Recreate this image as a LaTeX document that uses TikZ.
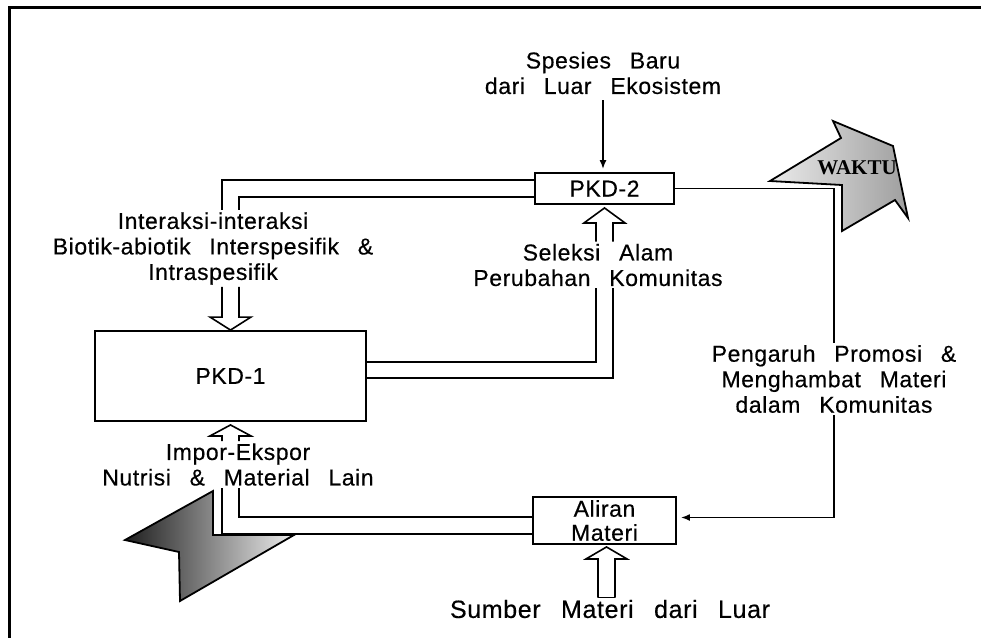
\documentclass[tikz,border=0pt]{standalone}
\usepackage{fontspec}
\setmainfont{Liberation Sans}[WordSpace=2.7,LetterSpace=2.5,FakeBold=0.4]
\newfontfamily\waktufont{Liberation Serif}
\usetikzlibrary{arrows.meta, calc}
\definecolor{waktulight}{gray}{0.92}
\definecolor{waktudark}{gray}{0.62}
\definecolor{kirilight}{gray}{0.93}
\definecolor{kiridark}{gray}{0.12}

% hollow arrow: #1 tip, #2 foot of the shafts, #3 head length (sign sets direction)
\newcommand{\hollowarrow}[3]{%
  \draw[pipe] ($(#2)+(-8.5,0)$) -- ($(#1)+(-8.5,#3)$) -- ($(#1)+(-20.5,#3)$) -- (#1)
    -- ($(#1)+(20.5,#3)$) -- ($(#1)+(8.5,#3)$) -- ($(#2)+(8.5,0)$);}

\begin{document}
\begin{tikzpicture}[x=1pt,y=-1pt,
    box/.style={draw, line width=1.9pt, inner sep=0pt, align=center,
      font=\fontsize{23}{24}\selectfont},
    txt/.style={inner sep=2pt, align=center, font=\fontsize{23}{25.5}\selectfont},
    pipe/.style={line width=1.6pt},
    thinline/.style={line width=1.6pt},
    arr/.style={line width=1.6pt, -{Latex[length=9pt,width=7pt]}}]
  \useasboundingbox (0,0) rectangle (984,637);
  % frame
  \draw[line width=3pt] (9,640) -- (9,7) -- (981,7);

  % boxes
  \node[box, minimum width=271pt, minimum height=90pt] (pkdone) at (230.5,376) {PKD-1};
  \node[box, minimum width=139pt, minimum height=31pt] (pkdtwo) at (604.5,188.5) {PKD-2};
  \node[box, minimum width=143pt, minimum height=47pt] (aliran) at (604.5,520.5) {Aliran\\Materi};

  % texts
  \node[txt] (spesies) at (603,73) {Spesies Baru\\dari Luar Ekosistem};
  \node[txt] (interaksi) at (213,248.5) {Interaksi-interaksi\\Biotik-abiotik Interspesifik \&\\Intraspesifik};
  \node[txt] (seleksi) at (598,265) {Seleksi Alam\\Perubahan Komunitas};
  \node[txt] (pengaruh) at (834,379) {Pengaruh Promosi \&\\Menghambat Materi\\dalam Komunitas};
  \node[txt] (impor) at (238,464.5) {Impor-Ekspor\\Nutrisi \& Material Lain};
  \node[txt, font=\fontsize{25}{28}\selectfont] (sumber) at (610,609) {Sumber Materi dari Luar};

  % grey block arrows
  \draw[line width=1.8pt, left color=waktulight, right color=waktudark]
    (833,121) -- (893,146) -- (908,218) -- (895,200) -- (842,231) -- (842,185)
    -- (770,181) -- (841,138) -- cycle;
  \node[font=\waktufont\bfseries\fontsize{21}{22}\selectfont] (waktu) at (857,168) {WAKTU};
  \draw[line width=1.8pt, left color=kiridark, right color=kirilight]
    (125,540) -- (213,491) -- (213,535) -- (294,535) -- (180,601) -- (179,552) -- cycle;

  % single connectors
  \draw[arr, shorten <=4pt, shorten >=3pt] (spesies.south) -- (spesies.south |- pkdtwo.north);
  \draw[thinline] (pkdtwo.east) -| (pengaruh.north);
  \draw[arr, shorten >=4pt] (pengaruh.south) |- ($(aliran.east)+(0,-3)$);

  % double pipes
  \draw[pipe] ($(pkdtwo.west)+(0,-8.5)$) -| ($(pkdone.north |- interaksi.north)+(-8.5,0)$);
  \draw[pipe] ($(pkdtwo.west)+(0,8.5)$) -| ($(pkdone.north |- interaksi.north)+(8.5,0)$);
  \draw[pipe] ($(pkdone.east)+(0,-14)$) -| ($(pkdtwo.south |- seleksi.south)+(-8.5,0)$);
  \draw[pipe] ($(pkdone.east)+(0,2)$) -| ($(pkdtwo.south |- seleksi.south)+(8.5,0)$);
  \draw[pipe] ($(aliran.west)+(0,-3.5)$) -| ($(pkdone.south |- impor.south)+(8.5,0)$);
  \draw[pipe] ($(aliran.west)+(0,13.5)$) -| ($(pkdone.south |- impor.south)+(-8.5,0)$);

  % hollow arrow heads
  \coordinate (tiptwo) at ($(pkdtwo.south)+(0,3)$);
  \coordinate (tipbot) at ($(pkdone.south)+(0,3)$);
  \coordinate (tipal) at ($(aliran.south)+(2,2)$);
  \hollowarrow{pkdone.north}{pkdone.north |- interaksi.south}{-13}
  \hollowarrow{tiptwo}{tiptwo |- seleksi.north}{15}
  \hollowarrow{tipbot}{tipbot |- impor.north}{11}
  \hollowarrow{tipal}{tipal |- sumber.north}{12}
  \draw[pipe] ($(tipal |- sumber.north)+(-8.5,0)$) -- ($(tipal |- sumber.north)+(8.5,0)$);
\end{tikzpicture}
\end{document}
